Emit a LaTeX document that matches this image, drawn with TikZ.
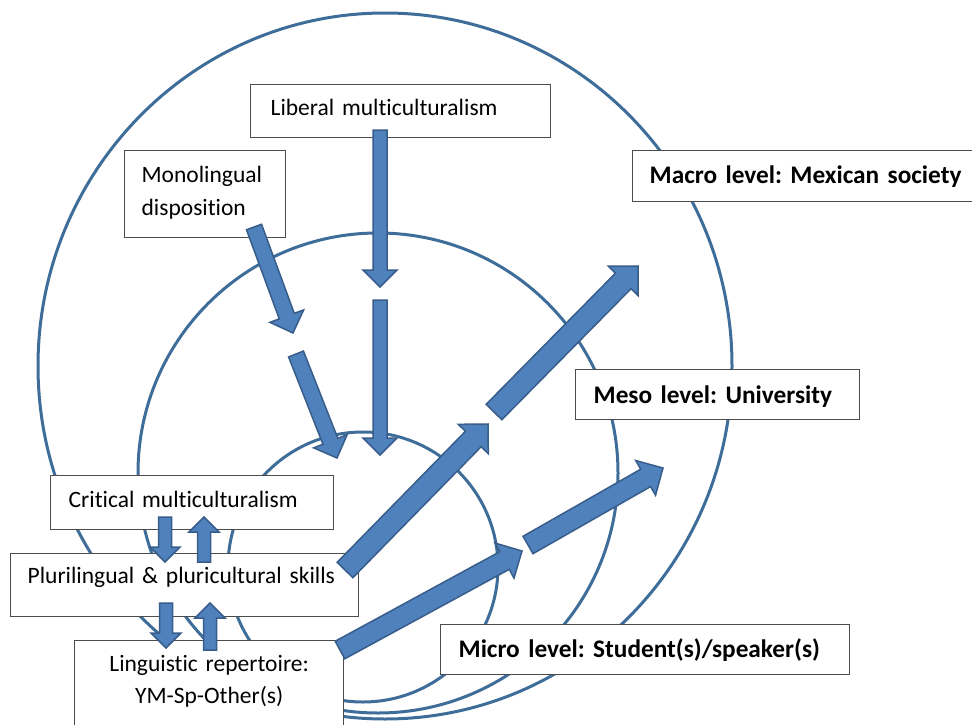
\documentclass[tikz,border=0pt]{standalone}
\usepackage{fontspec}
\setmainfont{Carlito}[Ligatures=NoCommon]
\frenchspacing
\usetikzlibrary{calc}

\definecolor{ringblue}{HTML}{3E6D99}
\definecolor{arrowfill}{HTML}{4F81BD}
\definecolor{arrowline}{HTML}{385D8A}

\tikzset{
  ring/.style={draw=ringblue, line width=3pt},
  box/.style={draw=black!70, fill=white, line width=1.3pt, anchor=north west,
    inner ysep=0pt, align=left, font=\fontsize{23.5}{33}\selectfont},
  levelbox/.style={box, font=\fontsize{25.3}{33}\selectfont\bfseries},
  barrow/.style={fill=arrowfill, draw=arrowline, line width=1.5pt},
}

% block arrow: tail, tip, half shaft width, half head width
\newcommand{\blockarrow}[4]{%
  \coordinate (hb) at ($(#2)!#4!(#1)$);
  \draw[barrow] ($(#1)!#3!90:(#2)$) -- ($(hb)!#3!-90:(#1)$) -- ($(hb)!#4!-90:(#1)$)
    -- (#2) -- ($(hb)!#4!90:(#1)$) -- ($(hb)!#3!90:(#1)$) -- ($(#1)!#3!-90:(#2)$) -- cycle;
}

\begin{document}
\begin{tikzpicture}[x=1pt, y=-1pt]
    \useasboundingbox (0,0) rectangle (972,725);

    % The three levels
    \draw[ring] (385,366) ellipse [x radius=347pt, y radius=353pt]; % macro
    \draw[ring] (378,473) circle [radius=240pt]; % meso
    \draw[ring] (363,567) circle [radius=135pt]; % micro

    % Boxes
    \node[box, text width=260pt, inner xsep=20pt, text height=31pt, text depth=22pt] (liberal) at (250,84) {Liberal multiculturalism};
    \node[box, text width=127pt, inner xsep=17pt, text height=32pt, text depth=55pt] (mono) at (124,150) {Monolingual\\disposition};
    \node[levelbox, text width=334pt, inner xsep=17pt, text height=33pt, text depth=18pt] (macro) at (632,150) {Macro level: Mexican society};
    \node[levelbox, text width=248pt, inner xsep=18pt, text height=34pt, text depth=16pt] (meso) at (575,369) {Meso level: University};
    \node[levelbox, text width=373pt, inner xsep=18pt, text height=33pt, text depth=17pt] (micro) at (440,624) {Micro level: Student(s)/speaker(s)};
    \node[box, text width=247pt, inner xsep=18pt, text height=32pt, text depth=22pt] (critical) at (50,475) {Critical multiculturalism};
    \node[box, text width=314pt, inner xsep=17pt, text height=30pt, text depth=33pt] (pluri) at (10,553) {Plurilingual \& pluricultural skills};
    \node[box, align=center, font=\fontsize{23.5}{32}\selectfont, text width=249pt, inner xsep=10pt, text height=31pt, text depth=70pt] (reper) at (74,640) {Linguistic repertoire:\\YM-Sp-Other(s)};

    % Define the arrow ends
    \coordinate (L1) at (380,130);
    \coordinate (L2) at (380,287);
    \coordinate (L3) at (380,300);
    \coordinate (L4) at (380,455);
    \coordinate (M1) at (254,227);
    \coordinate (M2) at (293,333);
    \coordinate (M3) at (296,354);
    \coordinate (M4) at (337,458);
    \coordinate (P1) at (345,570);
    \coordinate (P2) at (488,424);
    \coordinate (P3) at (494,412);
    \coordinate (P4) at (638,266);
    \coordinate (R1) at (340,650);
    \coordinate (R2) at (522,551);
    \coordinate (R3) at (528,545);
    \coordinate (R4) at (663,468);
    \coordinate (C1) at (165,517);
    \coordinate (C2) at (165,562);
    \coordinate (C3) at (204,562);
    \coordinate (C4) at (204,517);
    \coordinate (S1) at (166,603);
    \coordinate (S2) at (166,648);
    \coordinate (S3) at (210,650);
    \coordinate (S4) at (210,603);

    % Draw the block arrows
    \blockarrow{L1}{L2}{7pt}{17pt}
    \blockarrow{L3}{L4}{7pt}{17pt}
    \blockarrow{M1}{M2}{8pt}{18pt}
    \blockarrow{M3}{M4}{8pt}{18pt}
    \blockarrow{P1}{P2}{11pt}{21pt}
    \blockarrow{P3}{P4}{11pt}{21pt}
    \blockarrow{R1}{R2}{10pt}{20pt}
    \blockarrow{R3}{R4}{10pt}{20pt}
    \blockarrow{C1}{C2}{6.5pt}{15pt}
    \blockarrow{C3}{C4}{6.5pt}{15pt}
    \blockarrow{S1}{S2}{6.5pt}{15pt}
    \blockarrow{S3}{S4}{6.5pt}{15pt}
\end{tikzpicture}
\end{document}
